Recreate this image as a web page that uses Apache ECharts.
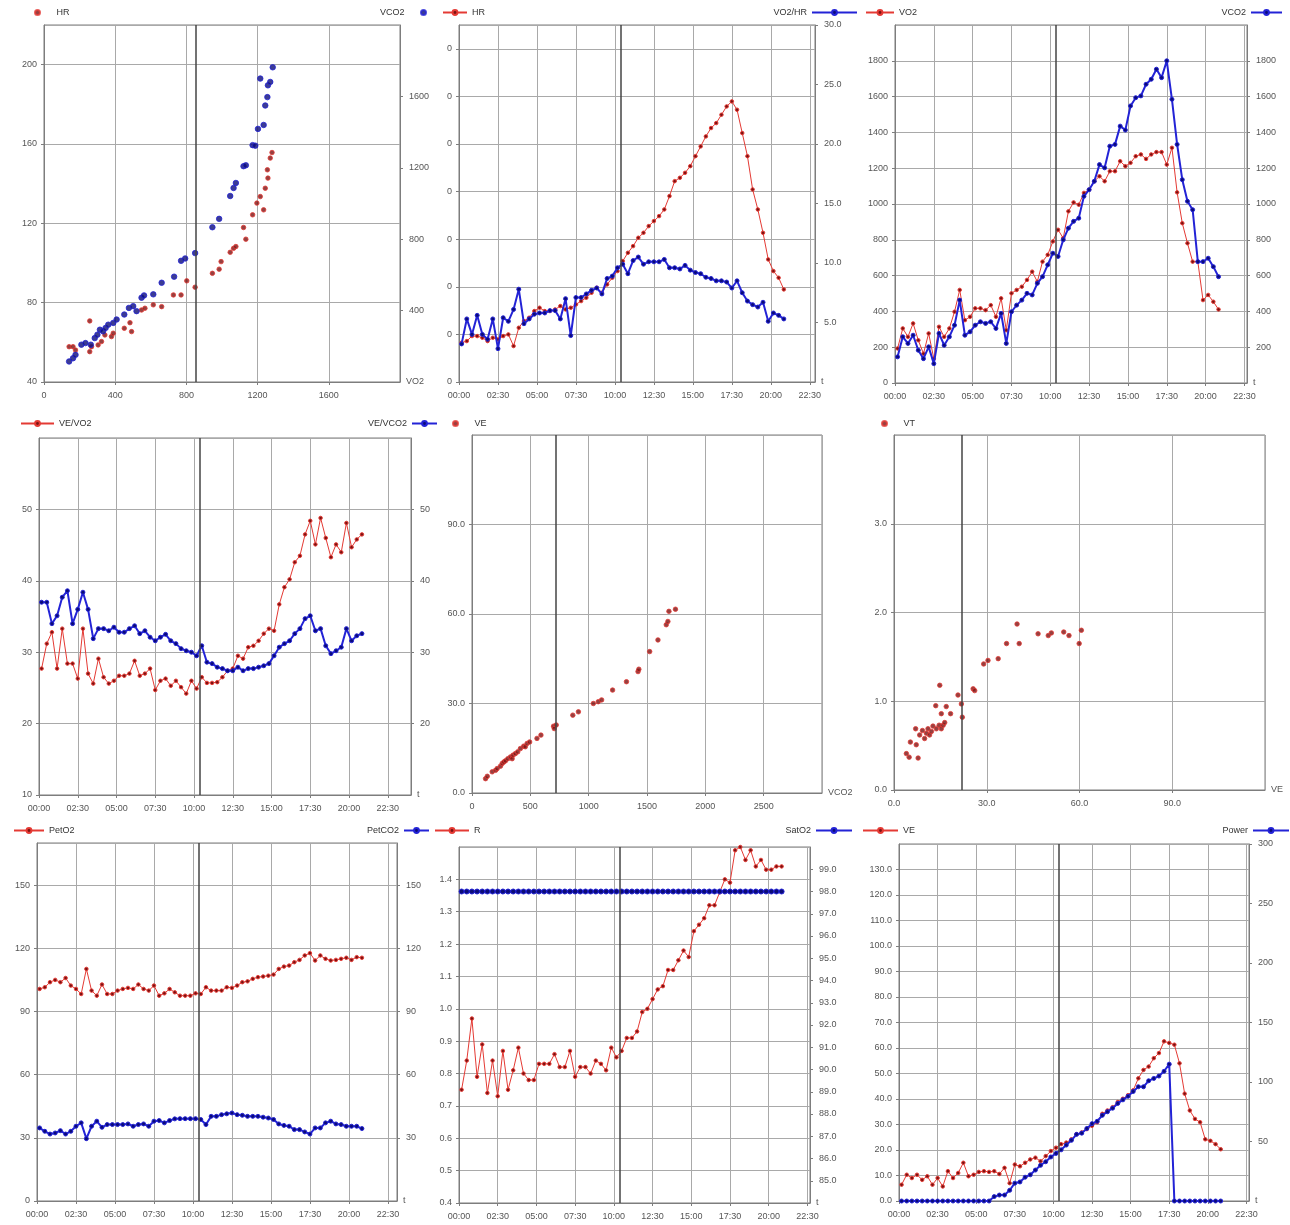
<!DOCTYPE html>
<html><head><meta charset="utf-8">
<script src="https://cdn.jsdelivr.net/npm/echarts@6/dist/echarts.min.js"></script>
<style>html,body{margin:0;padding:0;background:#fff}#c{width:1290px;height:1225px}</style>
</head><body><div id="c"></div>
<script>
// ---------- DATA ----------
// sample times (seconds from start)
const T = [10,30,50,70,90,110,130,150,170,190,210,230,250,270,290,310,330,350,370,390,410,430,450,470,490,510,530,550,570,590,610,630,650,670,690,710,730,750,770,790,810,830,850,870,890,910,930,950,970,990,1010,1030,1050,1070,1090,1110,1130,1150,1170,1190,1210,1230,1250];

// panel 1: scatter vs VO2
const P1_HR = [[141,57.8],[163,57.8],[177,56.1],[257,55.3],[267,57.8],[257,70.8],[304,58.7],[323,60.4],[342,63.7],[379,62.9],[389,64.6],[451,67.1],[483,69.9],[492,65.4],[548,76.3],[567,77.2],[614,78.9],[661,78.0],[727,83.9],[770,83.9],[802,91.0],[849,87.8],[946,94.8],[984,96.9],[995,100.7],[1046,105.4],[1065,107.4],[1078,108.3],[1121,117.9],[1134,112.0],[1172,124.3],[1196,130.2],[1215,133.5],[1234,126.8],[1243,137.7],[1255,147.0],[1258,142.8],[1271,152.9],[1281,155.7]];
const P1_VCO2 = [[141,115],[163,133],[177,152],[210,209],[233,218],[263,209],[285,246],[300,265],[314,293],[332,284],[346,303],[361,321],[389,331],[408,350],[451,378],[477,415],[501,425],[520,397],[548,472],[562,485],[614,491],[661,556],[731,590],[770,679],[793,692],[849,722],[946,867],[984,914],[1046,1042],[1065,1087],[1078,1115],[1121,1209],[1134,1214],[1172,1327],[1187,1324],[1202,1418],[1234,1440],[1243,1549],[1255,1596],[1258,1662],[1271,1681],[1215,1700],[1285,1763]];

// panel 2
const HR = [56.5,57.2,59.3,59.3,58.6,57.2,58.6,57.9,59.3,60.0,55.1,62.8,65.6,67.0,69.8,71.2,69.8,69.8,70.5,71.9,70.5,71.2,72.6,74.0,75.4,77.5,79.6,77.5,81.0,83.8,86.6,90.8,94.3,97.1,100.6,102.7,105.5,107.6,109.7,112.5,118.1,124.4,125.8,127.9,130.7,134.9,139.0,143.2,146.7,148.8,152.3,155.8,157.9,154.4,144.6,134.9,120.9,112.5,102.7,91.5,86.6,83.8,78.9];
const VO2HR = [3.2,5.3,4.0,5.6,4.0,3.6,5.3,2.8,5.4,5.1,6.1,7.8,4.9,5.3,5.7,5.8,5.8,6.0,6.0,5.3,7.0,3.9,7.1,7.1,7.4,7.7,7.9,7.4,8.7,8.9,9.6,9.9,9.1,10.2,10.5,9.9,10.1,10.1,10.1,10.3,9.6,9.6,9.5,9.8,9.4,9.2,9.1,8.8,8.7,8.5,8.5,8.4,7.9,8.5,7.5,6.8,6.5,6.3,6.7,5.1,5.8,5.6,5.3];

// panel 3
const VO2 = [193,305,258,333,239,164,277,136,314,258,305,398,520,351,370,417,417,407,435,370,473,295,501,520,538,576,622,566,678,716,791,856,809,959,1009,996,1062,1080,1127,1155,1127,1183,1183,1239,1211,1230,1267,1277,1252,1277,1290,1290,1220,1314,1065,893,781,678,678,463,492,454,411];
const VCO2 = [146,258,221,267,183,136,202,108,277,211,258,323,463,267,286,323,342,333,342,305,389,221,398,435,463,501,492,557,594,660,725,707,800,865,903,921,1043,1080,1127,1220,1202,1323,1333,1435,1413,1548,1594,1604,1669,1697,1753,1706,1800,1585,1333,1136,1015,968,678,678,697,650,594];

// panel 4
const VEVO2 = [27.7,31.2,32.8,27.7,33.3,28.4,28.4,26.3,33.3,27.0,25.6,29.1,26.5,25.6,26.0,26.7,26.7,27.0,28.8,26.7,27.0,27.7,24.7,26.0,26.3,25.3,26.0,25.1,24.2,26.0,24.9,26.5,25.7,25.7,25.8,26.5,27.4,27.7,29.5,29.1,30.7,30.9,31.6,32.6,33.3,33.0,36.7,39.1,40.2,42.6,43.5,46.5,48.4,45.1,48.8,46.0,43.3,45.1,44.0,48.1,44.7,45.8,46.5];
const VEVCO2 = [37.0,37.0,34.0,35.1,37.7,38.6,34.0,36.0,38.4,36.0,31.9,33.3,33.3,33.0,33.5,32.8,32.8,33.3,33.7,32.6,33.0,32.1,31.6,32.1,32.5,31.6,31.2,30.5,30.2,30.0,29.5,30.9,28.6,28.4,27.9,27.7,27.4,27.4,27.9,27.4,27.7,27.7,27.9,28.1,28.4,29.5,30.7,31.2,31.6,32.6,33.3,34.7,35.1,33.0,33.3,30.9,29.8,30.2,30.7,33.3,31.6,32.3,32.6];

// panel 5: VE vs VCO2
const P5_VE = [[116,4.8],[131,5.6],[173,7.1],[202,7.6],[216,8.2],[244,9.0],[259,9.9],[273,10.4],[287,10.8],[307,11.5],[330,12.1],[344,11.5],[352,12.7],[372,13.2],[392,13.8],[415,14.9],[443,15.7],[457,15.5],[472,16.6],[494,17.1],[557,18.3],[591,19.4],[699,22.4],[705,21.6],[722,22.8],[864,26.1],[912,27.2],[1040,30.0],[1082,30.6],[1111,31.2],[1205,34.5],[1324,37.3],[1423,40.7],[1430,41.5],[1523,47.4],[1594,51.3],[1665,56.4],[1679,57.5],[1688,60.9],[1744,61.6]];

// panel 6: VT vs VE
const P6_VT = [[4.0,0.41],[4.9,0.37],[5.3,0.54],[7.8,0.36],[7.2,0.51],[7.0,0.69],[8.3,0.62],[9.2,0.67],[9.9,0.58],[10.5,0.64],[11.0,0.69],[11.5,0.62],[12.1,0.66],[12.6,0.72],[13.7,0.69],[14.6,0.73],[15.3,0.69],[15.9,0.73],[13.5,0.95],[14.8,1.18],[15.3,0.86],[16.4,0.76],[16.9,0.94],[18.3,0.86],[20.7,1.07],[21.8,0.97],[22.1,0.82],[25.6,1.14],[26.1,1.12],[29.0,1.42],[30.4,1.46],[33.7,1.48],[36.4,1.65],[39.8,1.87],[40.5,1.65],[46.6,1.76],[49.9,1.74],[50.9,1.77],[54.9,1.78],[56.6,1.74],[59.9,1.65],[60.6,1.80]];

// panel 7
const PETO2 = [100.7,101.5,103.9,105.0,103.9,105.9,102.3,100.7,98.3,110.2,99.9,97.5,102.8,98.3,98.3,99.9,100.7,101.2,100.7,102.8,100.7,99.9,102.3,97.5,98.6,100.7,99.1,97.5,97.5,97.5,98.6,98.3,101.5,99.9,99.9,99.9,101.5,101.2,102.3,103.9,104.3,105.5,106.3,106.6,107.0,107.5,110.2,111.3,111.8,113.4,114.5,116.6,117.7,114.2,116.6,115.0,114.2,114.5,115.0,115.5,114.5,115.8,115.5];
const PETCO2 = [34.7,33.1,31.8,32.3,33.4,31.8,33.1,35.5,37.1,29.6,35.5,37.9,35.0,36.3,36.3,36.3,36.3,36.6,35.5,36.3,36.6,35.5,37.9,38.2,37.1,38.2,39.0,39.1,39.1,39.1,39.1,38.7,36.3,40.2,40.2,41.0,41.4,41.8,41.0,40.7,40.2,40.2,40.2,39.8,39.4,38.7,36.6,35.9,35.5,33.9,33.9,32.8,31.8,34.7,34.7,37.1,37.9,36.6,36.3,35.5,35.5,35.5,34.4];

// panel 8
const RQ = [0.75,0.84,0.97,0.79,0.89,0.74,0.84,0.73,0.87,0.75,0.81,0.88,0.80,0.78,0.78,0.83,0.83,0.83,0.86,0.82,0.82,0.87,0.79,0.82,0.82,0.80,0.84,0.83,0.81,0.88,0.85,0.87,0.91,0.91,0.93,0.99,1.00,1.03,1.06,1.07,1.12,1.12,1.15,1.18,1.16,1.24,1.26,1.28,1.32,1.32,1.36,1.40,1.39,1.49,1.50,1.46,1.49,1.44,1.46,1.43,1.43,1.44,1.44];
const SATO2 = [98,98,98,98,98,98,98,98,98,98,98,98,98,98,98,98,98,98,98,98,98,98,98,98,98,98,98,98,98,98,98,98,98,98,98,98,98,98,98,98,98,98,98,98,98,98,98,98,98,98,98,98,98,98,98,98,98,98,98,98,98,98,98];

// panel 9
const VE = [6.4,10.3,9.0,10.3,8.3,9.7,6.4,9.0,5.7,11.7,9.0,11.0,15.0,9.7,10.3,11.4,11.7,11.4,11.7,10.6,13.0,7.0,14.3,13.6,15.0,16.3,17.0,15.6,17.6,19.6,20.9,22.3,22.9,24.2,26.2,26.9,28.2,29.5,30.9,34.2,35.5,36.8,38.8,40.1,41.5,43.4,48.1,51.4,52.7,56.0,58.0,62.6,62.0,61.3,54.0,42.1,35.5,32.2,30.9,24.2,23.6,22.3,20.3];
const POWER = [0,0,0,0,0,0,0,0,0,0,0,0,0,0,0,0,0,0,3.7,5,5,9,15,16,20,22,26,30,33,37,40,43,47,51,56,57,61,65,67,72,75,78,82,85,88,92,96,96,101,103,105,109,115,0,0,0,0,0,0,0,0,0,0];

// threshold markers
const AT_TIME = 622;      // s
const AT_VO2 = 850;
const AT_VCO2 = 722;
const AT_VE = 21.8;

// ---------- STYLE ----------
const FONT = '"Liberation Sans", Arial, sans-serif';
const TXT = '#555';
const AX = '#7d7d7d';
const GRIDC = '#a9a9a9';
const RED = '#e43a34', RED_DOT = '#7a1212';
const BLUE = '#2323d6', BLUE_DOT = '#0b0b78';

const pad = n => String(n).padStart(2, '0');
const mmss = v => pad(Math.floor(v / 60)) + ':' + pad(Math.round(v % 60));
const f1 = v => Number(v).toFixed(1);
const plain = v => String(Math.round(v * 1000) / 1000);
const ts = arr => T.map((t, i) => [t, arr[i]]);

function xAx(gi, min, max, interval, name, fmt) {
  return {
    type: 'value', gridIndex: gi, min, max, interval,
    axisLine: { show: true, onZero: false, lineStyle: { color: AX } },
    axisTick: { show: true, length: 3, lineStyle: { color: AX } },
    axisLabel: { fontSize: 9, color: TXT, fontFamily: FONT, margin: 9, showMaxLabel: false, formatter: fmt || plain },
    splitLine: { show: true, lineStyle: { color: GRIDC, width: 1 } },
    name, nameLocation: 'end', nameGap: 6,
    nameTextStyle: { fontSize: 9, color: TXT, fontFamily: FONT }
  };
}
function yAx(gi, pos, min, max, interval, o) {
  o = o || {};
  return {
    type: 'value', gridIndex: gi, position: pos, min, max, interval,
    axisLine: { show: true, onZero: false, lineStyle: { color: AX } },
    axisTick: { show: true, length: 3, lineStyle: { color: AX } },
    axisLabel: { fontSize: 9, color: TXT, fontFamily: FONT, margin: pos === 'left' ? 7 : 9,
      showMaxLabel: !!o.showMax, showMinLabel: o.showMin !== false, formatter: o.fmt || plain },
    splitLine: { show: pos === 'left', lineStyle: { color: GRIDC, width: 1 } }
  };
}
function mark(v) {
  return { silent: true, symbol: ['none', 'none'], label: { show: false },
    lineStyle: { color: '#444', width: 1.5, type: 'solid' }, data: [{ xAxis: v }] };
}
function redLine(name, xi, yi, data, ml) {
  const s = { type: 'line', name, xAxisIndex: xi, yAxisIndex: yi, data, symbol: 'circle', symbolSize: 3.5,
    showSymbol: true, lineStyle: { color: RED, width: 1 },
    itemStyle: { color: RED_DOT, borderColor: RED, borderWidth: 1 }, z: 3 };
  if (ml !== undefined) s.markLine = mark(ml);
  return s;
}
function blueLine(name, xi, yi, data, ml, thick) {
  const s = { type: 'line', name, xAxisIndex: xi, yAxisIndex: yi, data, symbol: 'circle',
    symbolSize: thick ? 5 : 4, showSymbol: true, lineStyle: { color: BLUE, width: thick ? 3 : 2 },
    itemStyle: { color: BLUE_DOT, borderColor: BLUE, borderWidth: 1 }, z: 4 };
  if (ml !== undefined) s.markLine = mark(ml);
  return s;
}
function redDots(name, xi, yi, data, ml) {
  const s = { type: 'scatter', name, xAxisIndex: xi, yAxisIndex: yi, data, symbolSize: 4.5,
    itemStyle: { color: RED_DOT, borderColor: RED, borderWidth: 1 }, z: 3 };
  if (ml !== undefined) s.markLine = mark(ml);
  return s;
}
function blueDots(name, xi, yi, data) {
  return { type: 'scatter', name, xAxisIndex: xi, yAxisIndex: yi, data, symbolSize: 5.5,
    itemStyle: { color: BLUE_DOT, borderColor: BLUE, borderWidth: 1 }, z: 4 };
}
function leg(name, side, pos, top, w, dot) {
  const l = { data: [name], top, padding: 0, itemGap: 0, itemWidth: w, itemHeight: dot ? 5 : 6,
    selectedMode: false, formatter: n => n.trim(),
    textStyle: { fontSize: 9, color: '#333', fontFamily: FONT } };
  if (dot) l.icon = 'circle';
  if (side === 'l') { l.left = pos; } else { l.right = pos; l.align = 'right'; }
  return l;
}
function grid(left, top, width, height) {
  return { left, top, width, height, show: true, borderColor: AX, borderWidth: 1,
    backgroundColor: '#fff', outerBoundsMode: 'none', containLabel: false };
}

const option = {
  animation: false,
  backgroundColor: '#fff',
  grid: [
    grid(44, 25, 356, 357),
    grid(459, 25, 356, 357),
    grid(895, 25, 352, 358),
    grid(39, 438, 372, 357),
    grid(472, 435, 350, 358),
    grid(894, 435, 371, 355),
    grid(37, 843, 360, 358),
    grid(459, 847, 351, 356),
    grid(899, 844, 350, 357)
  ],
  xAxis: [
    xAx(0, 0, 2000, 400, 'VO2'),
    xAx(1, 0, 1370, 150, 't', mmss),
    xAx(2, 0, 1360, 150, 't', mmss),
    xAx(3, 0, 1440, 150, 't', mmss),
    xAx(4, 0, 3000, 500, 'VCO2'),
    xAx(5, 0, 120, 30, 'VE', f1),
    xAx(6, 0, 1385, 150, 't', mmss),
    xAx(7, 0, 1360, 150, 't', mmss),
    xAx(8, 0, 1360, 150, 't', mmss)
  ],
  yAxis: [
    yAx(0, 'left', 40, 220, 40),
    yAx(0, 'right', 0, 2000, 400, { showMin: false }),
    yAx(1, 'left', 40, 190, 20, { fmt: v => String(v).slice(-1) }), // labels hidden behind neighbouring panel
    yAx(1, 'right', 0, 30, 5, { showMin: false, showMax: true, fmt: f1 }),
    yAx(2, 'left', 0, 2000, 200),
    yAx(2, 'right', 0, 2000, 200, { showMin: false }),
    yAx(3, 'left', 10, 60, 10),
    yAx(3, 'right', 10, 60, 10, { showMin: false }),
    yAx(4, 'left', 0, 120, 30, { fmt: f1 }),
    yAx(5, 'left', 0, 4, 1, { fmt: f1 }),
    yAx(6, 'left', 0, 170, 30),
    yAx(6, 'right', 0, 170, 30, { showMin: false }),
    yAx(7, 'left', 0.4, 1.5, 0.1, { fmt: f1 }),
    yAx(7, 'right', 84, 100, 1, { showMin: false, fmt: f1 }),
    yAx(8, 'left', 0, 140, 10, { fmt: f1 }),
    yAx(8, 'right', 0, 300, 50, { showMin: false, showMax: true })
  ],
  legend: [
    leg('HR', 'l', 34, 8, 28, true),
    leg('VCO2', 'r', 863, 8, 28, true),
    leg('HR ', 'l', 442, 8, 24),
    leg('VO2/HR', 'r', 432, 8, 45),
    leg('VO2', 'l', 865, 8, 28),
    leg('VCO2 ', 'r', 7, 8, 31),
    leg('VE/VO2', 'l', 20, 419, 33),
    leg('VE/VCO2', 'r', 852, 419, 25),
    leg('VE', 'l', 452, 419, 28, true),
    leg('VT', 'l', 881, 419, 28, true),
    leg('PetO2', 'l', 13, 826, 30),
    leg('PetCO2', 'r', 860, 826, 25),
    leg('R', 'l', 434, 826, 34),
    leg('SatO2', 'r', 437, 826, 36),
    leg('VE ', 'l', 862, 826, 35),
    leg('Power', 'r', 0, 826, 36)
  ],
  series: [
    redDots('HR', 0, 0, P1_HR, AT_VO2),
    blueDots('VCO2', 0, 1, P1_VCO2),
    redLine('HR ', 1, 2, ts(HR), AT_TIME),
    blueLine('VO2/HR', 1, 3, ts(VO2HR)),
    redLine('VO2', 2, 4, ts(VO2), AT_TIME),
    blueLine('VCO2 ', 2, 5, ts(VCO2)),
    redLine('VE/VO2', 3, 6, ts(VEVO2), AT_TIME),
    blueLine('VE/VCO2', 3, 7, ts(VEVCO2)),
    redDots('VE', 4, 8, P5_VE, AT_VCO2),
    redDots('VT', 5, 9, P6_VT, AT_VE),
    redLine('PetO2', 6, 10, ts(PETO2), AT_TIME),
    blueLine('PetCO2', 6, 11, ts(PETCO2)),
    redLine('R', 7, 12, ts(RQ), AT_TIME),
    blueLine('SatO2', 7, 13, ts(SATO2), undefined, true),
    redLine('VE ', 8, 14, ts(VE), AT_TIME),
    blueLine('Power', 8, 15, ts(POWER))
  ]
};

const chart = echarts.init(document.getElementById('c'), null, { renderer: 'canvas' });
chart.setOption(option);
</script></body></html>
